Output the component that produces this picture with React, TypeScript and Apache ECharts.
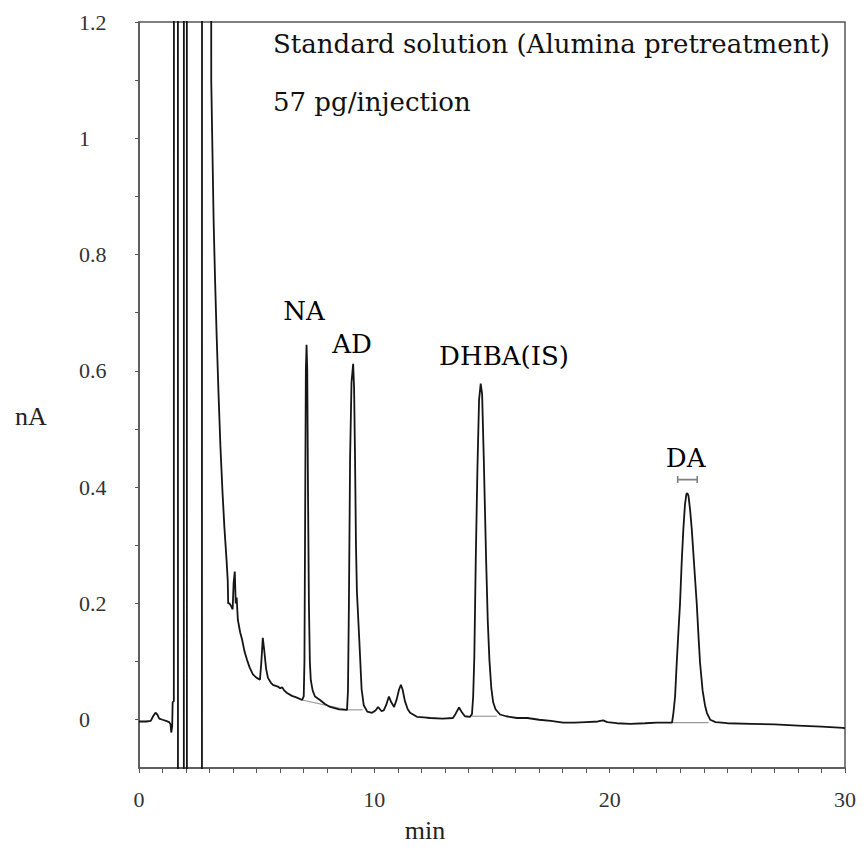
import React, { useEffect, useRef } from "react";
import * as echarts from "echarts";

// ---- axis ticks / labels ----
const xLabelValues = [0, 10, 20, 30];
const xTickValues = [0, 1, 2, 3, 4, 5, 6, 7, 8, 9, 10, 11, 12, 13, 14, 15, 16, 17, 18, 19, 20, 21, 22, 23, 24, 25, 26, 27, 28, 29, 30];
const yLabelValues = [0, 0.2, 0.4, 0.6, 0.8, 1, 1.2];
const yTickValues = [0, 0.1, 0.2, 0.3, 0.4, 0.5, 0.6, 0.7, 0.8, 0.9, 1, 1.1, 1.2];

// ---- chromatogram trace segments: [min, nA] ----
const preInjection = [
  [0, -0.003], [0.3, -0.003], [0.5, -0.002], [0.6, 0.006], [0.7, 0.012], [0.78, 0.009],
  [0.86, 0.002], [1.0, 0.0], [1.15, -0.002], [1.28, -0.004], [1.34, -0.008], [1.37, -0.022],
  [1.41, -0.012], [1.43, 0.03], [1.48, 0.032],
];
const solventFront = [
  [1.49, 3], [1.65, 3], [1.66, -3], [1.9, -3], [1.91, 3], [2.03, 3], [2.04, -3],
  [2.67, -3], [2.68, 3], [3.05, 3],
];
const solventTail = [
  [3.07, 1.1], [3.12, 0.98], [3.17, 0.86], [3.23, 0.76], [3.3, 0.66], [3.38, 0.56], [3.46, 0.47],
  [3.55, 0.39], [3.63, 0.33], [3.72, 0.275], [3.77, 0.24], [3.79, 0.2], [3.85, 0.2], [3.92, 0.195],
  [3.98, 0.19], [4.02, 0.235], [4.07, 0.255], [4.11, 0.2], [4.15, 0.21], [4.2, 0.172], [4.3, 0.15],
  [4.38, 0.138], [4.48, 0.118], [4.59, 0.103], [4.7, 0.09], [4.84, 0.078], [5.0, 0.072],
  [5.14, 0.069], [5.2, 0.1], [5.26, 0.141], [5.32, 0.12], [5.4, 0.088], [5.48, 0.072], [5.6, 0.064],
  [5.69, 0.06], [5.9, 0.057], [6.0, 0.054], [6.08, 0.056], [6.18, 0.05], [6.29, 0.046], [6.5, 0.041],
  [6.71, 0.038], [6.93, 0.034],
];
const naPeak = [
  [7.0, 0.04], [7.03, 0.1], [7.06, 0.35], [7.09, 0.6], [7.12, 0.645], [7.15, 0.6], [7.18, 0.4],
  [7.22, 0.2], [7.26, 0.1], [7.3, 0.068], [7.38, 0.05], [7.48, 0.04], [7.69, 0.034], [7.9, 0.027],
  [8.12, 0.022], [8.5, 0.018], [8.84, 0.017],
];
const adPeak = [
  [8.88, 0.05], [8.92, 0.2], [8.97, 0.45], [9.03, 0.58], [9.1, 0.612], [9.14, 0.57], [9.18, 0.45],
  [9.22, 0.3], [9.26, 0.22], [9.36, 0.138], [9.46, 0.052], [9.55, 0.025], [9.7, 0.014], [9.9, 0.012],
];
const minorPeaks = [
  [10.05, 0.016], [10.16, 0.022], [10.3, 0.015], [10.4, 0.016], [10.5, 0.025], [10.62, 0.04],
  [10.72, 0.03], [10.84, 0.022], [10.95, 0.035], [11.05, 0.052], [11.13, 0.06], [11.2, 0.052],
  [11.3, 0.032], [11.42, 0.018], [11.52, 0.012], [11.81, 0.005], [12.1, 0.004], [12.37, 0.003],
  [12.9, 0.002], [13.34, 0.003], [13.45, 0.01], [13.6, 0.021], [13.72, 0.013], [13.85, 0.006],
  [14.07, 0.005],
];
const dhbaPeak = [
  [14.15, 0.01], [14.2, 0.04], [14.25, 0.11], [14.31, 0.275], [14.38, 0.43], [14.45, 0.55],
  [14.52, 0.578], [14.58, 0.56], [14.65, 0.45], [14.75, 0.275], [14.82, 0.17], [14.89, 0.103],
  [14.97, 0.055], [15.05, 0.03], [15.15, 0.018], [15.34, 0.009],
];
const lateBaseline = [
  [15.6, 0.006], [16.06, 0.003], [16.5, 0.003], [17.0, 0.0], [17.5, -0.002], [18.02, -0.005],
  [18.5, -0.005], [19.0, -0.004], [19.5, -0.003], [19.72, -0.001], [19.9, -0.004], [20.3, -0.006],
  [20.87, -0.007], [21.5, -0.006], [22.0, -0.005], [22.4, -0.005], [22.65, -0.005],
];
const daPeak = [
  [22.71, 0.012], [22.78, 0.04], [22.85, 0.098], [22.92, 0.15], [22.99, 0.2], [23.06, 0.27],
  [23.13, 0.327], [23.2, 0.37], [23.26, 0.388], [23.3, 0.39], [23.35, 0.385], [23.42, 0.36],
  [23.49, 0.327], [23.6, 0.26], [23.7, 0.2], [23.78, 0.14], [23.84, 0.098], [23.95, 0.05],
  [24.05, 0.025], [24.13, 0.012], [24.27, 0.0], [24.5, -0.004],
];
const tailBaseline = [
  [25, -0.006], [26, -0.007], [27, -0.008], [28, -0.01], [29, -0.012], [29.92, -0.014], [30, -0.015],
];

// ---- integration baselines ----
const naBase = [[6.93, 0.034], [8.84, 0.017]];
const adBase = [[8.84, 0.017], [9.5, 0.017]];
const dhbaBase = [[14.14, 0.006], [15.2, 0.006]];
const daBase = [[22.65, -0.005], [24.2, -0.005]];
const daBracket = [
  [22.89, 0.407], [22.89, 0.419], [22.89, 0.413], [23.72, 0.413], [23.72, 0.407], [23.72, 0.419],
];

// ---- peak labels ----
const peakNames = ["NA", "AD", "DHBA(IS)", "DA"];
const peakLabelPos = [[7.01, 0.703], [9.05, 0.647], [15.51, 0.625], [23.23, 0.451]];

const trace = [
  ...preInjection, ...solventFront, ...solventTail, ...naPeak, ...adPeak,
  ...minorPeaks, ...dhbaPeak, ...lateBaseline, ...daPeak, ...tailBaseline,
];

const SERIF_T = "'Liberation Serif', 'Times New Roman', serif";
const SERIF_C = "'DejaVu Serif', serif";
const AXIS_COLOR = "#555";

function baseSeries(data: number[][], color = "#9a9a9a", width = 1.2) {
  return {
    type: "line",
    data,
    symbol: "none",
    showSymbol: false,
    silent: true,
    z: 1,
    lineStyle: { color, width },
  };
}

export default function App() {
  const ref = useRef<HTMLDivElement>(null);
  useEffect(() => {
    const chart = echarts.init(ref.current!, null, { renderer: "svg" });
    chart.setOption({
      animation: false,
      backgroundColor: "#fff",
      grid: {
        left: 139, right: 21, top: 22, bottom: 84,
        show: true, borderColor: AXIS_COLOR, borderWidth: 1.5, backgroundColor: "transparent",
      },
      xAxis: {
        type: "value", min: 0, max: 30,
        axisLine: { show: true, onZero: false, lineStyle: { color: AXIS_COLOR, width: 1.5 } },
        axisTick: { show: true, length: 5, customValues: xTickValues, lineStyle: { color: AXIS_COLOR, width: 1 } },
        axisLabel: {
          customValues: xLabelValues, margin: 20, fontFamily: SERIF_T, fontSize: 22, color: "#333",
          formatter: (v: number) => String(v),
        },
        splitLine: { show: false },
      },
      yAxis: {
        type: "value", min: -0.083, max: 1.2,
        axisLine: { show: true, onZero: false, lineStyle: { color: AXIS_COLOR, width: 1.5 } },
        axisTick: { show: true, length: 4, customValues: yTickValues, lineStyle: { color: AXIS_COLOR, width: 1 } },
        axisLabel: {
          customValues: yLabelValues, margin: 60, align: "left", fontFamily: SERIF_T, fontSize: 22, color: "#333",
          formatter: (v: number) => String(Math.round(v * 10) / 10),
        },
        splitLine: { show: false },
      },
      series: [
        baseSeries(naBase), baseSeries(adBase), baseSeries(dhbaBase), baseSeries(daBase),
        baseSeries(daBracket, "#808080", 1.6),
        {
          type: "line", data: trace, symbol: "none", showSymbol: false, clip: true, z: 3,
          lineStyle: { color: "#151515", width: 1.8 },
        },
        {
          type: "scatter", symbolSize: 1, z: 4,
          itemStyle: { color: "rgba(0,0,0,0)" },
          data: peakNames.map((n, i) => ({ name: n, value: peakLabelPos[i] })),
          label: {
            show: true, position: "inside", formatter: "{b}",
            fontFamily: SERIF_C, fontSize: 26, color: "#000", textBorderWidth: 0, opacity: 1,
          },
          emphasis: { disabled: true },
        },
      ],
      graphic: [
        { type: "text", x: 273, y: 44, style: { text: "Standard solution (Alumina pretreatment)", fontFamily: SERIF_C, fontSize: 26, fill: "#111", verticalAlign: "middle", align: "left" } },
        { type: "text", x: 273, y: 102, style: { text: "57 pg/injection", fontFamily: SERIF_C, fontSize: 26, fill: "#111", verticalAlign: "middle", align: "left" } },
        { type: "text", x: 31, y: 416, style: { text: "nA", fontFamily: SERIF_T, fontSize: 26, fill: "#222", verticalAlign: "middle", align: "center" } },
        { type: "text", x: 425, y: 830, style: { text: "min", fontFamily: SERIF_T, fontSize: 26, fill: "#222", verticalAlign: "middle", align: "center" } },
      ],
    });
    return () => chart.dispose();
  }, []);
  return (
    <div
      ref={ref}
      style={{ position: "fixed", left: 0, top: 0, width: 866, height: 852, background: "#fff" }}
    />
  );
}
